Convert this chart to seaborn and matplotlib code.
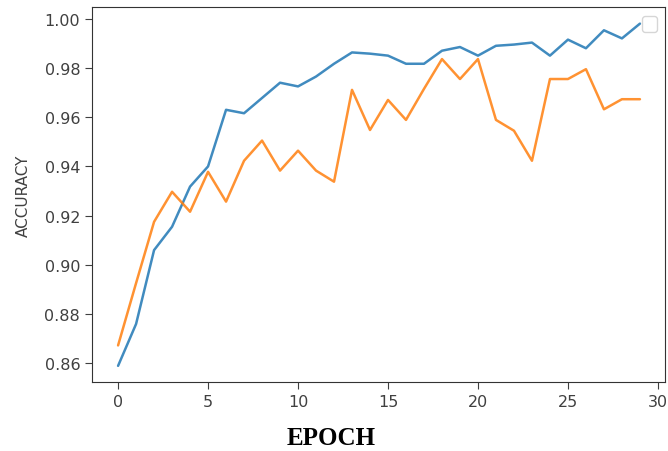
import numpy as np
import pandas as pd
import seaborn as sns
import matplotlib
matplotlib.use("Agg")
import matplotlib.pyplot as plt

# ---------- data ----------
epochs = list(range(30))
train_acc = [0.859, 0.876, 0.906, 0.9155, 0.9318, 0.940, 0.963, 0.9616, 0.9678, 0.974,
             0.9725, 0.9765, 0.9817, 0.9863, 0.9858, 0.985, 0.9817, 0.9817, 0.987, 0.9885,
             0.985, 0.989, 0.9895, 0.9903, 0.985, 0.9915, 0.988, 0.9953, 0.992, 0.998]
val_acc = [0.8673, 0.8926, 0.9175, 0.9297, 0.9216, 0.9378, 0.9257, 0.9423, 0.9505, 0.9383,
           0.9464, 0.9383, 0.9338, 0.9711, 0.9548, 0.967, 0.9589, 0.9715, 0.9836, 0.9755,
           0.9836, 0.9589, 0.9545, 0.9423, 0.9755, 0.9755, 0.9795, 0.9632, 0.9673, 0.9673]

df = pd.DataFrame({"epoch": epochs, "train": train_acc, "val": val_acc})

# ---------- plot ----------
sns.set_style("ticks")
colors = sns.color_palette("tab10")

fig = plt.figure(figsize=(6.68, 4.52), dpi=100)
ax = fig.add_axes([0.1377, 0.153, 0.858, 0.829])

sns.lineplot(data=df, x="epoch", y="train", color=colors[0], linewidth=1.8, alpha=0.85, ax=ax)
sns.lineplot(data=df, x="epoch", y="val", color=colors[1], linewidth=1.8, alpha=0.85, ax=ax)

ax.set_xlim(-1.45, 30.4)
ax.set_ylim(0.8525, 1.0047)
ax.set_xticks([0, 5, 10, 15, 20, 25, 30])
ax.set_yticks(np.arange(0.86, 1.001, 0.02))
ax.yaxis.set_major_formatter(matplotlib.ticker.FormatStrFormatter("%.2f"))
ax.tick_params(labelsize=11.5, colors=".25", length=5)
for s in ax.spines.values():
    s.set_color(".2")

ax.set_ylabel("ACCURACY", fontsize=11, color=".25", labelpad=10)
ax.set_xlabel("EPOCH", fontsize=18, fontweight="bold",
              family="Liberation Serif", color="black")
ax.xaxis.set_label_coords(0.417, -0.118)

# empty legend box, as in the original
ax.legend(handles=[], loc="upper right", bbox_to_anchor=(0.998, 0.994), borderpad=0.55)

fig.savefig("out.png", dpi=100)
